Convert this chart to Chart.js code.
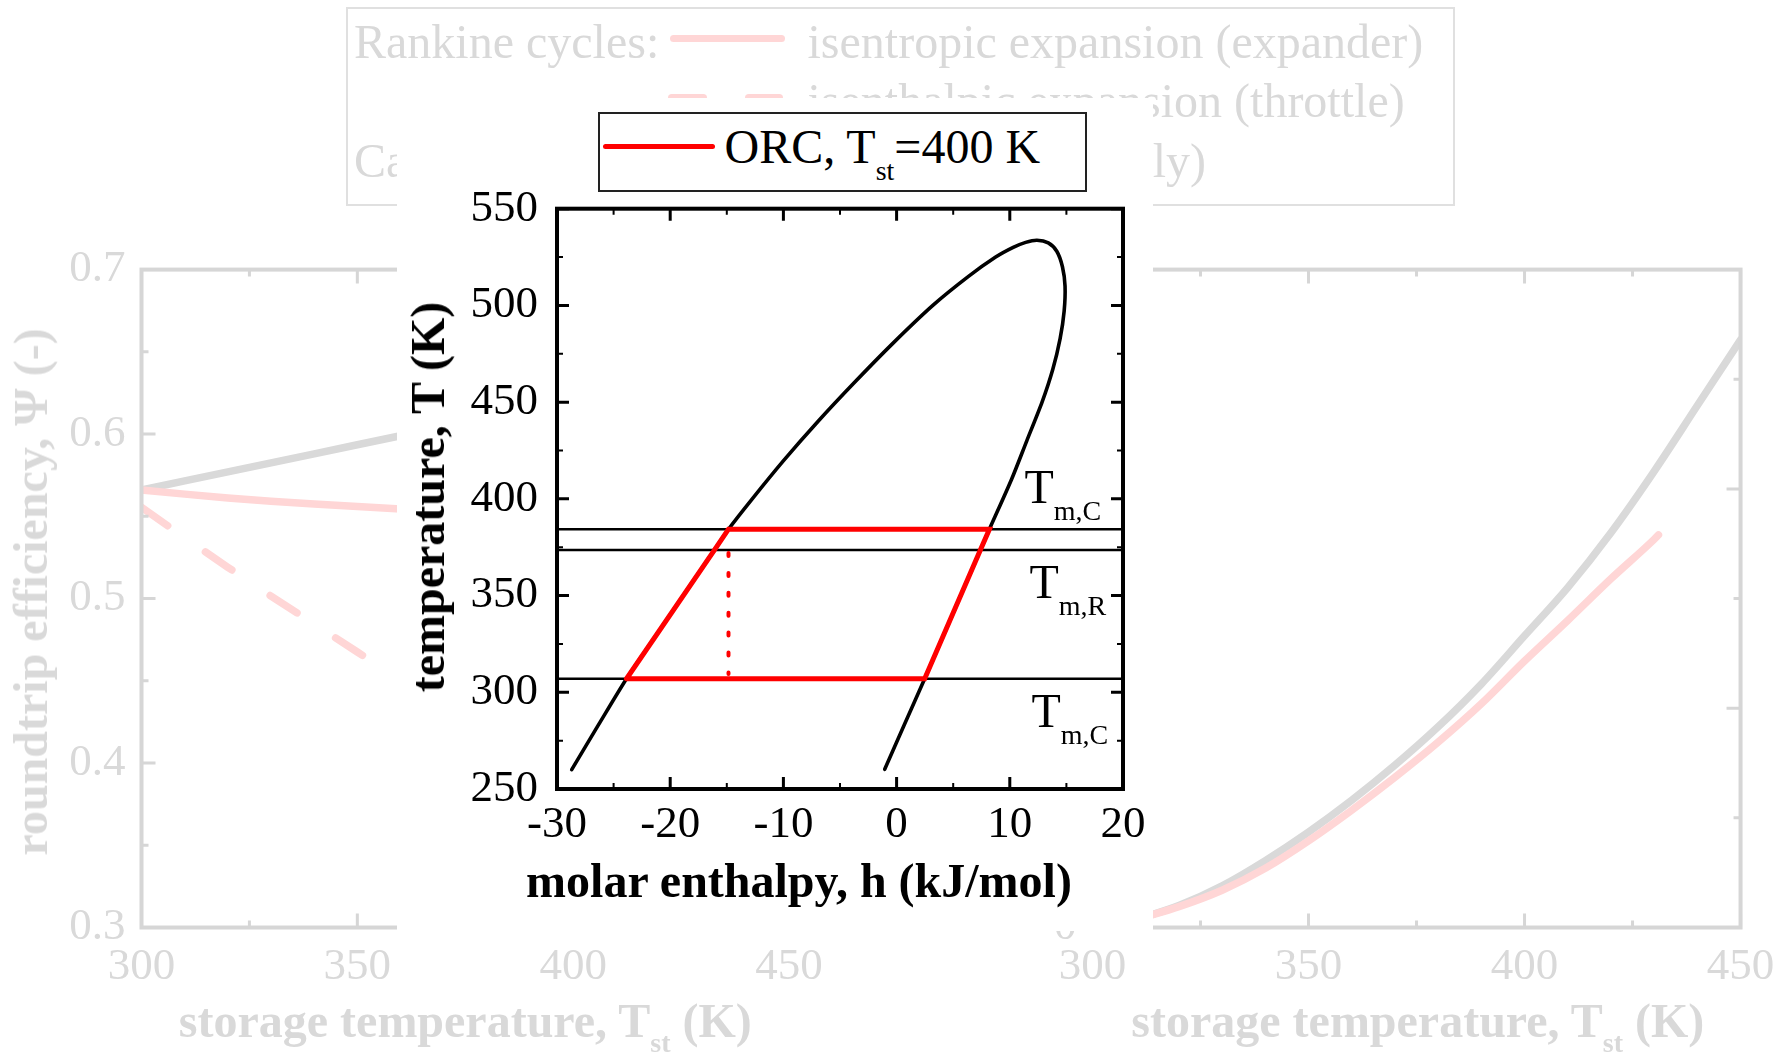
<!DOCTYPE html>
<html>
<head>
<meta charset="utf-8">
<script src="https://cdn.jsdelivr.net/npm/chart.js@4.4.1/dist/chart.umd.min.js"></script>
<style>
html,body{margin:0;padding:0;background:#fff;}
#stage{position:relative;width:1791px;height:1052px;overflow:hidden;background:#fff;font-family:'Liberation Serif','Times New Roman',serif;}
#stage canvas{position:absolute;left:0;top:0;}
.t{position:absolute;white-space:nowrap;line-height:1;font-family:'Liberation Serif','Times New Roman',serif;}
</style>
</head>
<body>
<div id="stage">
<canvas id="bgLeft" width="1791" height="1052" style="z-index:1"></canvas>
<canvas id="bgRight" width="1791" height="1052" style="z-index:1"></canvas>
<canvas id="inset" width="1791" height="1052" style="z-index:4"></canvas>
</div>
<script>
// ================= DATA =================
// background left panel: roundtrip efficiency vs storage temperature
const storageT = [300, 310, 320, 330, 340, 350, 360, 370];
const psiExpander = [0.566, 0.5635, 0.5612, 0.5592, 0.5575, 0.556, 0.5545, 0.5532];
const psiThrottle = [0.5555, 0.537, 0.519, 0.5015, 0.4845, 0.4675, 0.4505, 0.434];
const psiCarnot = [0.566, 0.5715, 0.577, 0.5825, 0.588, 0.5935, 0.599, 0.6045];

// background right panel
const rightT = [300, 310, 320, 330, 340, 350, 360, 370, 380, 390, 400, 410, 420, 430, 440, 450];
const rightCarnot = [-0.03, 0.035, 0.10, 0.19, 0.305, 0.435, 0.58, 0.74, 0.915, 1.11, 1.33, 1.55, 1.80, 2.08, 2.38, 2.68];
const rightRankT = [300, 310, 320, 330, 340, 350, 360, 370, 380, 390, 400, 410, 420, 430, 431];
const rightRankine = [-0.03, 0.035, 0.095, 0.17, 0.27, 0.395, 0.535, 0.685, 0.845, 1.02, 1.215, 1.40, 1.59, 1.77, 1.79];

// inset: saturation dome (molar enthalpy kJ/mol, temperature K): liquid branch then vapour branch
const domeH = [-28.7, -26.3, -23.86, -21.18, -18.5, -16.1, -14.85, -12.75, -9.95, -6.95, -3.75, -0.4, 3.2, 6.35, 8.75, 10.3, 11.4, 12.4,
               13.4, 14.15, 14.65, 14.88, 14.8, 14.45, 13.8, 12.85, 11.5, 10.15, 8.2, 7.4, 4.92, 2.48, 0.7, -1.05];
const domeT = [260, 283.5, 307, 330, 353, 373.5, 384.3, 400, 420, 440, 460, 480, 500, 515, 525, 530, 532.6, 533.7,
               532.3, 528, 520, 510, 497, 483, 467, 450, 430, 410, 384.3, 373.5, 340, 307, 283.5, 260.2];
// ORC cycle at T_st = 400 K
const cycleH = [-23.86, -16.1, -14.85, 8.2, 7.4, 2.48, -23.86];
const cycleT = [307, 373.5, 384.3, 384.3, 373.5, 307, 307];
const throttleH = [-14.85, -14.85];
const throttleT = [372.0, 309.5];
// horizontal temperature levels (T_m,C / T_m,R / T_m,C)
const levelT = [384.3, 373.5, 307.0];
const levelSpanH = [-30, 20];

// tick values
const bgTempTicks = [300, 350, 400, 450];
const bgTempMinor = [325, 375, 425];
const psiTicks = [0.3, 0.4, 0.5, 0.6, 0.7];
const psiMinor = [0.35, 0.45, 0.55, 0.65];
const rightTicks = [0, 1, 2, 3];
const rightMinor = [0.5, 1.5, 2.5];
const hTicks = [-30, -20, -10, 0, 10, 20];
const hMinor = [-25, -15, -5, 5, 15];
const TTicks = [250, 300, 350, 400, 450, 500, 550];
const TMinor = [275, 325, 375, 425, 475, 525];

// ================= STYLE =================
const W = 1791, H = 1052;
const FONT = "'Liberation Serif', 'Times New Roman', serif";
const GRAY = '#d9d9d9', PINK = '#ffd6d6', AXGRAY = '#d6d6d6';
const ASC = 0.8375; // baseline offset for line-height:1 in Liberation Serif

Chart.defaults.font.family = FONT;

function xy(xs, ys) { return xs.map((x, i) => ({x: x, y: ys[i]})); }

function makeFrame(c) {
  return {
    id: 'frameTicks',
    afterDatasetsDraw(chart) {
      const ctx = chart.ctx, A = chart.chartArea;
      const X = chart.scales.x, Y = chart.scales.y;
      ctx.save();
      ctx.strokeStyle = c.color;
      ctx.lineCap = 'butt';
      const xt = (vals, len, w) => {
        ctx.lineWidth = w; ctx.beginPath();
        vals.forEach(v => { const p = X.getPixelForValue(v);
          ctx.moveTo(p, A.bottom); ctx.lineTo(p, A.bottom - len);
          ctx.moveTo(p, A.top); ctx.lineTo(p, A.top + len); });
        ctx.stroke();
      };
      const yt = (vals, len, w) => {
        ctx.lineWidth = w; ctx.beginPath();
        vals.forEach(v => { const p = Y.getPixelForValue(v);
          ctx.moveTo(A.left, p); ctx.lineTo(A.left + len, p);
          ctx.moveTo(A.right, p); ctx.lineTo(A.right - len, p); });
        ctx.stroke();
      };
      xt(c.xMajor, c.majorLen, c.majorW); xt(c.xMinor, c.minorLen, c.minorW);
      yt(c.yMajor, c.majorLen, c.majorW); yt(c.yMinor, c.minorLen, c.minorW);
      ctx.lineWidth = c.frameW; ctx.lineJoin = 'miter';
      ctx.strokeRect(A.left, A.top, A.right - A.left, A.bottom - A.top);
      ctx.restore();
    }
  };
}

function axis(a, dir) {
  return {
    type: 'linear', position: dir === 'x' ? 'bottom' : 'left',
    min: a.min, max: a.max,
    afterFit: sc => { if (dir === 'x') sc.height = a.box; else sc.width = a.box; },
    afterBuildTicks: sc => { sc.ticks = a.ticks.map(v => ({value: v})); },
    grid: {display: false, drawTicks: false},
    border: {display: false},
    ticks: {padding: a.pad, color: a.color, font: {family: FONT, size: a.size, lineHeight: 1},
            autoSkip: false, maxRotation: 0, minRotation: 0, callback: v => String(v)}
  };
}

function build(id, datasets, s) {
  return new Chart(document.getElementById(id), {
    type: 'line',
    data: {datasets: datasets},
    options: {
      responsive: false, animation: false, devicePixelRatio: 1, events: [],
      layout: {autoPadding: false, padding: s.pad},
      plugins: {legend: {display: false}, tooltip: {enabled: false}, title: {display: false}},
      elements: {point: {radius: 0, hoverRadius: 0},
                 line: {borderCapStyle: 'round', borderJoinStyle: 'round', fill: false}},
      scales: {x: axis(s.x, 'x'), y: axis(s.y, 'y')}
    },
    plugins: [makeFrame(s.frame)]
  });
}

// ---------- background left panel ----------
build('bgLeft', [
  {data: xy(storageT, psiExpander), borderColor: PINK, borderWidth: 7.5, tension: 0},
  {data: xy(storageT, psiThrottle), borderColor: PINK, borderWidth: 7.5, borderDash: [32, 46], tension: 0},
  {data: xy(storageT, psiCarnot), borderColor: GRAY, borderWidth: 7.5, tension: 0}
], {
  pad: {left: 141.5 - 120, top: 269.6, right: W - 789, bottom: H - 927.5 - 80},
  x: {min: 300, max: 450, ticks: bgTempTicks, pad: 16.7, color: GRAY, size: 45, box: 80},
  y: {min: 0.3, max: 0.7, ticks: psiTicks, pad: 16, color: GRAY, size: 45, box: 120},
  frame: {color: AXGRAY, frameW: 4, majorLen: 14, minorLen: 7, majorW: 3, minorW: 3,
          xMajor: bgTempTicks, xMinor: bgTempMinor, yMajor: psiTicks, yMinor: psiMinor}
});

// ---------- background right panel ----------
build('bgRight', [
  {data: xy(rightRankT, rightRankine), borderColor: PINK, borderWidth: 7.5, cubicInterpolationMode: 'monotone'},
  {data: xy(rightT, rightCarnot), borderColor: GRAY, borderWidth: 7.5, cubicInterpolationMode: 'monotone'}
], {
  pad: {left: 1092.5 - 120, top: 269.6, right: W - 1743, bottom: H - 927.5 - 80},
  x: {min: 300, max: 450, ticks: bgTempTicks, pad: 16.7, color: GRAY, size: 45, box: 80},
  y: {min: 0, max: 3, ticks: rightTicks, pad: 16, color: GRAY, size: 45, box: 120},
  frame: {color: AXGRAY, frameW: 4, majorLen: 14, minorLen: 7, majorW: 3, minorW: 3,
          xMajor: bgTempTicks, xMinor: bgTempMinor, yMajor: rightTicks, yMinor: rightMinor}
});

// ---------- inset T-h diagram ----------
const insetSets = [
  {data: xy(cycleH, cycleT), borderColor: '#ff0000', borderWidth: 5, tension: 0, borderJoinStyle: 'miter'},
  {data: xy(throttleH, throttleT), borderColor: '#ff0000', borderWidth: 4, borderDash: [3, 16.9], tension: 0}
];
levelT.forEach(t => insetSets.push({data: xy(levelSpanH, [t, t]), borderColor: '#000', borderWidth: 2.5, tension: 0, borderCapStyle: 'butt'}));
insetSets.push({data: xy(domeH, domeT), borderColor: '#000', borderWidth: 3.6, tension: 0.25});
build('inset', insetSets, {
  pad: {left: 557 - 110, top: 208.7, right: W - 1123, bottom: H - 789 - 70},
  x: {min: -30, max: 20, ticks: hTicks, pad: 13.5, color: '#000', size: 45, box: 70},
  y: {min: 250, max: 550, ticks: TTicks, pad: 19, color: '#000', size: 45, box: 110},
  frame: {color: '#000', frameW: 4, majorLen: 12, minorLen: 6, majorW: 3, minorW: 2,
          xMajor: hTicks, xMinor: hMinor, yMajor: TTicks, yMinor: TMinor}
});

// ================= HTML TEXT & BOXES =================
const STAGE = document.getElementById('stage');
function place(el, z) { el.style.position = 'absolute'; el.style.zIndex = z; STAGE.appendChild(el); return el; }
function sub(t, size, shift) { return '<span style="font-size:' + size + 'px;vertical-align:' + (-shift) + 'px">' + t + '</span>'; }
function txt(html, x, base, size, o) {
  o = o || {};
  const d = document.createElement('div');
  d.className = 't';
  d.innerHTML = html;
  d.style.fontSize = size + 'px';
  d.style.top = (base - ASC * size) + 'px';
  if (o.right) d.style.right = (W - x) + 'px'; else d.style.left = x + 'px';
  d.style.color = o.color || '#000';
  if (o.bold) d.style.fontWeight = 'bold';
  if (o.center) d.style.transform = 'translateX(-50%)';
  return place(d, o.z || 5);
}
function vtxt(html, baseX, cy, size, o) {
  const d = document.createElement('div');
  d.className = 't';
  d.innerHTML = html;
  d.style.fontSize = size + 'px';
  d.style.left = (baseX - ASC * size) + 'px';
  d.style.top = cy + 'px';
  d.style.transformOrigin = '0 0';
  d.style.transform = 'rotate(-90deg) translate(-50%, 0)';
  d.style.color = o.color || '#000';
  if (o.bold) d.style.fontWeight = 'bold';
  return place(d, o.z || 5);
}
function bar(x1, x2, y, w, color, z) {
  const d = document.createElement('div');
  d.style.left = x1 + 'px'; d.style.top = (y - w / 2) + 'px';
  d.style.width = (x2 - x1) + 'px'; d.style.height = w + 'px';
  d.style.background = color; d.style.borderRadius = (w / 2) + 'px';
  return place(d, z);
}
function box(l, t, w, h, border, bg, z) {
  const d = document.createElement('div');
  d.style.left = l + 'px'; d.style.top = t + 'px';
  d.style.width = w + 'px'; d.style.height = h + 'px';
  d.style.boxSizing = 'border-box';
  d.style.border = border; d.style.background = bg;
  return place(d, z);
}

// ---- background legend ----
box(346, 7, 1109, 199, '2px solid #e0e0e0', 'transparent', 2);
txt('Rankine cycles:', 354, 58.3, 48, {color: GRAY, z: 2});
bar(670, 785, 38.5, 7.5, PINK, 2);
txt('isentropic expansion (expander)', 807.5, 58.3, 48, {color: GRAY, z: 2});
bar(668, 707, 98, 7.5, PINK, 2);
bar(745, 783, 98, 7.5, PINK, 2);
txt('isenthalpic expansion (throttle)', 807.5, 117.5, 48, {color: GRAY, z: 2});
txt('Carnot cycles:', 354, 177, 48, {color: GRAY, z: 2});
bar(670, 785, 157.5, 7.5, GRAY, 2);
txt('ideal (theoretically)', 1206, 177, 48, {color: GRAY, z: 2, right: true});

// ---- background axis titles ----
vtxt('roundtrip efficiency, &Psi; (-)', 46.7, 592, 48, {color: GRAY, bold: true, z: 2});
txt('storage temperature, T' + sub('st', 28, 15) + ' (K)', 465.3, 1036.7, 48, {color: GRAY, bold: true, center: true, z: 2});
txt('storage temperature, T' + sub('st', 28, 15) + ' (K)', 1417.8, 1036.7, 48, {color: GRAY, bold: true, center: true, z: 2});

// ---- white overlay ----
box(396.5, 98, 756, 833, 'none', '#ffffff', 3);

// ---- inset legend ----
box(598, 112, 489, 80, '2px solid #222', '#ffffff', 5);
bar(603, 715, 146.3, 5, '#ff0000', 6);
txt('ORC, T' + sub('st', 28, 16.7) + '=400 K', 724.5, 163, 48, {z: 6});

// ---- inset axis titles ----
txt('molar enthalpy, h (kJ/mol)', 799, 897, 48, {bold: true, center: true, z: 5});
vtxt('temperature, T (K)', 444, 497, 48, {bold: true, z: 5});

// ---- temperature level labels ----
txt('T' + sub('m,C', 28, 16.7), 1024.5, 503.3, 48, {z: 5});
txt('T' + sub('m,R', 28, 16.7), 1029.5, 598.3, 48, {z: 5});
txt('T' + sub('m,C', 28, 16.7), 1031.5, 726.7, 48, {z: 5});
</script>
</body>
</html>
